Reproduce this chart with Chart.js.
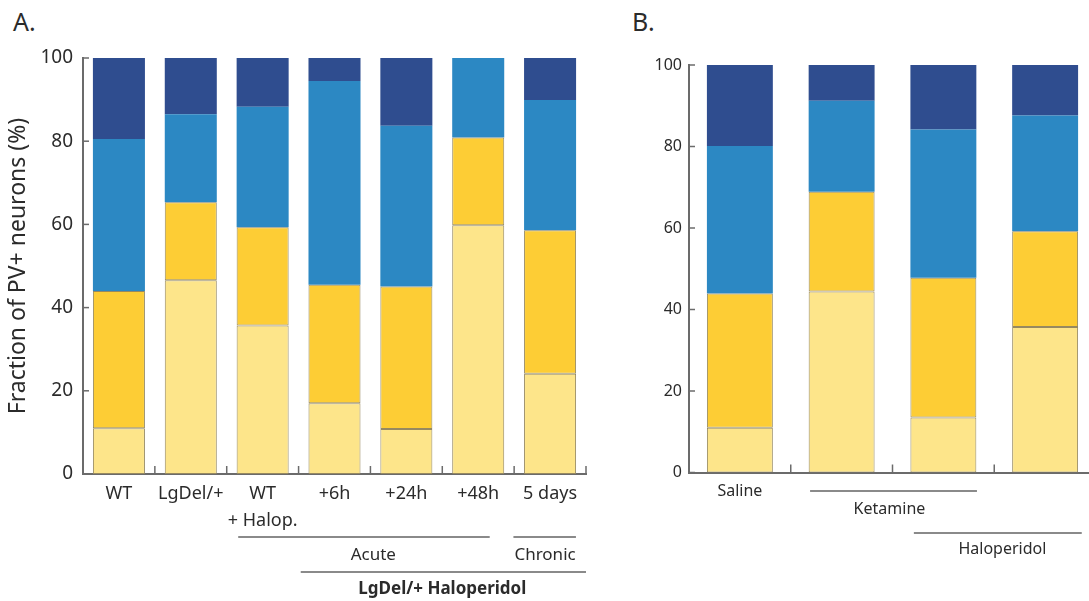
<!DOCTYPE html>
<html>
<head>
<meta charset="utf-8">
<script src="https://cdn.jsdelivr.net/npm/chart.js@4/dist/chart.umd.min.js"></script>
<style>
    html, body { margin: 0; padding: 0; background: #fff; overflow: hidden; }
    body { width: 1089px; height: 601px; position: relative; font-family: 'Noto Sans', sans-serif; color: #2b2b2b; }
    .panel-tag { position: absolute; font-size: 25px; line-height: 1; color: #2b2b2b; }
    #chartA { position: absolute; left: 0; top: 0; }
    #chartB { position: absolute; left: 600px; top: 0; }
</style>
</head>
<body>
<div class="panel-tag" style="left:13px; top:9px;">A.</div>
<div class="panel-tag" style="left:632px; top:9px;">B.</div>
<canvas id="chartA" width="600" height="601"></canvas>
<canvas id="chartB" width="520" height="601"></canvas>
<script>
// Panel A: fraction of PV+ neurons per class (%), segments from bottom to top
const catsA = ['WT', 'LgDel/+', ['WT', '+ Halop.'], '+6h', '+24h', '+48h', '5 days'];
const lightA  = [11.0, 46.6, 35.7, 17.0, 10.8, 59.8, 24.1];
const yellowA = [33.0, 18.7, 23.6, 28.5, 34.3, 21.1, 34.5];
const blueA   = [36.5, 21.2, 29.0, 49.0, 38.6, 19.1, 31.3];
const darkA   = [19.5, 13.5, 11.7,  5.5, 16.3,  0.0, 10.1];

// Panel B
const catsB = ['Saline', '', '', ''];
const lightB  = [11.0, 44.4, 13.5, 35.7];
const yellowB = [32.9, 24.5, 34.3, 23.5];
const blueB   = [36.2, 22.3, 36.4, 28.4];
const darkB   = [19.9,  8.8, 15.8, 12.4];

const yTicks = [0, 20, 40, 60, 80, 100];

// group brackets under the x axis (in category units)
const groupsA = [
    { label: 'Acute', from: 1.66, to: 5.16, at: 3.54, row: 0 },
    { label: 'Chronic', from: 5.49, to: 6.36, at: 5.93, row: 0 },
    { label: 'LgDel/+ Haloperidol', from: 2.53, to: 6.5, at: 4.5, row: 1, bold: true }
];
const groupsB = [
    { label: 'Ketamine', from: 0.69, to: 2.33, at: 1.47, row: 0 },
    { label: 'Haloperidol', from: 1.71, to: 3.36, at: 2.58, row: 1 }
];

const COLORS = {
    light: '#fde58a',
    yellow: '#fdcd35',
    blue: '#2c88c3',
    dark: '#2f4d8f',
    yellowEdge: '#968960',
    axis: '#6b6b6b',
    text: '#2b2b2b'
};
const FONT = "'Noto Sans', sans-serif";

// draws inward tick marks and the group brackets
const bracketPlugin = {
    id: 'brackets',
    afterDraw(chart, args, opts) {
        const ctx = chart.ctx;
        const x = chart.scales.x;
        const y = chart.scales.y;
        const area = chart.chartArea;
        ctx.save();
        ctx.strokeStyle = COLORS.axis;
        ctx.lineWidth = 1.5;
        // y ticks, pointing into the plot
        yTicks.forEach(v => {
            const py = y.getPixelForValue(v);
            ctx.beginPath();
            ctx.moveTo(area.left, py);
            ctx.lineTo(area.left + opts.yTickLen, py);
            ctx.stroke();
        });
        // x ticks at category boundaries, pointing up
        for (let i = 0; i < chart.data.labels.length; i++) {
            const px = x.getPixelForValue(i + 0.5);
            ctx.beginPath();
            ctx.moveTo(px, area.bottom);
            ctx.lineTo(px, area.bottom - opts.xTickLen);
            ctx.stroke();
        }
        // group brackets
        ctx.lineWidth = 2;
        ctx.strokeStyle = '#8a8a8a';
        ctx.fillStyle = COLORS.text;
        ctx.textAlign = 'center';
        ctx.textBaseline = 'middle';
        opts.groups.forEach(g => {
            const row = opts.rows[g.row];
            const ly = area.bottom + row.line;
            ctx.beginPath();
            ctx.moveTo(x.getPixelForValue(g.from), ly);
            ctx.lineTo(x.getPixelForValue(g.to), ly);
            ctx.stroke();
            ctx.font = (g.bold ? 'bold ' : '') + opts.fontSize + 'px ' + FONT;
            ctx.fillText(g.label, x.getPixelForValue(g.at), area.bottom + row.text);
        });
        ctx.restore();
    }
};

function makeDatasets(light, yellow, blue, dark, barPct) {
    const base = { barPercentage: barPct, categoryPercentage: 1, borderSkipped: false };
    return [
        Object.assign({ label: 'Class 1', data: light, backgroundColor: COLORS.light, borderColor: COLORS.yellowEdge, borderWidth: 1 }, base),
        Object.assign({ label: 'Class 2', data: yellow, backgroundColor: COLORS.yellow, borderColor: COLORS.yellowEdge, borderWidth: 1 }, base),
        Object.assign({ label: 'Class 3', data: blue, backgroundColor: COLORS.blue, borderWidth: 0 }, base),
        Object.assign({ label: 'Class 4', data: dark, backgroundColor: COLORS.dark, borderWidth: 0 }, base)
    ];
}

function makeChart(id, cfg) {
    return new Chart(document.getElementById(id), {
        type: 'bar',
        data: { labels: cfg.labels, datasets: makeDatasets(cfg.light, cfg.yellow, cfg.blue, cfg.dark, cfg.barPct) },
        plugins: [bracketPlugin],
        options: {
            responsive: false,
            animation: false,
            layout: { padding: cfg.padding },
            plugins: {
                legend: { display: false },
                tooltip: { enabled: false },
                brackets: {
                    groups: cfg.groups,
                    rows: cfg.rows,
                    fontSize: cfg.groupFont,
                    xTickLen: 8,
                    yTickLen: 6
                }
            },
            scales: {
                x: {
                    stacked: true,
                    offset: true,
                    grid: { display: false, drawTicks: false },
                    border: { display: true, color: COLORS.axis, width: 2 },
                    ticks: {
                        color: COLORS.text,
                        padding: cfg.xPad,
                        maxRotation: 0,
                        autoSkip: false,
                        font: { family: FONT, size: cfg.xFont, lineHeight: 1.5 }
                    },
                    afterFit: s => { s.height = cfg.xHeight; }
                },
                y: {
                    stacked: true,
                    min: 0,
                    max: 100,
                    grid: { display: false, drawTicks: false },
                    border: { display: true, color: COLORS.axis, width: 2 },
                    ticks: {
                        stepSize: 20,
                        color: COLORS.text,
                        padding: cfg.yPad,
                        font: { family: FONT, size: cfg.yFont }
                    },
                    title: {
                        display: !!cfg.yTitle,
                        text: cfg.yTitle || '',
                        color: COLORS.text,
                        padding: { top: 5, bottom: 0 },
                        font: { family: FONT, size: 23 }
                    },
                    afterFit: s => { s.width = cfg.yWidth; }
                }
            }
        }
    });
}

makeChart('chartA', {
    labels: catsA, light: lightA, yellow: yellowA, blue: blueA, dark: darkA,
    barPct: 0.724,
    padding: { top: 58, right: 14, bottom: 0, left: 0 },
    xHeight: 127, yWidth: 83,
    xPad: 6, yPad: 10, xFont: 18, yFont: 19,
    yTitle: 'Fraction of PV+ neurons (%)',
    groups: groupsA,
    rows: [{ line: 63, text: 81 }, { line: 98, text: 115 }],
    groupFont: 17
});

makeChart('chartB', {
    labels: catsB, light: lightB, yellow: yellowB, blue: blueB, dark: darkB,
    barPct: 0.648,
    padding: { top: 65, right: 24, bottom: 0, left: 0 },
    xHeight: 128.5, yWidth: 89,
    xPad: 7, yPad: 7, xFont: 16, yFont: 16,
    yTitle: null,
    groups: groupsB,
    rows: [{ line: 18.5, text: 36.5 }, { line: 60.5, text: 76.5 }],
    groupFont: 16
});
</script>
</body>
</html>
